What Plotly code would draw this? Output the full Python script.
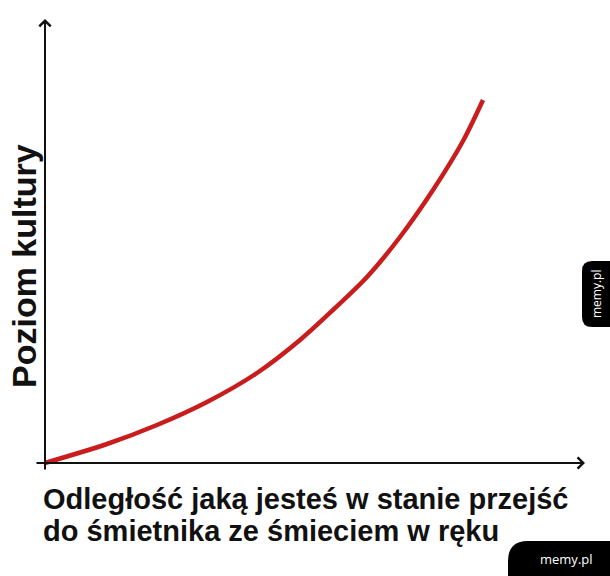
import plotly.graph_objects as go

# curve (x: distance, y: culture level)
distance = [0, 62, 112, 162, 212, 255, 288, 322, 355, 388, 418, 438]
culture = [0, 19, 38, 61, 90, 123, 153, 186, 226, 273, 322, 363]

x_label = "Odległość jaką jesteś w stanie przejść"
x_label_2 = "do śmietnika ze śmieciem w ręku"
y_label = "Poziom kultury"
watermark = "memy.pl"

fig = go.Figure()

fig.add_trace(
    go.Scatter(
        x=distance,
        y=culture,
        mode="lines",
        line=dict(color="#c91d1d", width=4.5, shape="spline", smoothing=0.8),
        hoverinfo="skip",
        showlegend=False,
    )
)

# axes drawn as arrows
arrow = dict(
    showarrow=True, arrowhead=4, arrowsize=1.1, arrowwidth=2,
    arrowcolor="#111111", text="", xref="x", yref="y", axref="x", ayref="y",
)
fig.add_annotation(x=540, y=0, ax=-10, ay=0, **arrow)
fig.add_annotation(x=0, y=444, ax=0, ay=-8, **arrow)

label_font = dict(family="Liberation Sans, Arial, sans-serif", size=29,
                  color="#111111", weight="bold")
fig.add_annotation(x=-4, y=-36, text=x_label, showarrow=False, xanchor="left",
                   yanchor="middle", font=label_font, xref="x", yref="y")
fig.add_annotation(x=-4, y=-68, text=x_label_2, showarrow=False, xanchor="left",
                   yanchor="middle", font=label_font, xref="x", yref="y")
fig.add_annotation(x=-21, y=197, text=y_label, showarrow=False, textangle=-90,
                   xanchor="center", yanchor="middle",
                   font=dict(family="Liberation Sans, Arial, sans-serif", size=34,
                             color="#111111", weight="bold"),
                   xref="x", yref="y")

# memy.pl badges
fig.add_shape(
    type="path",
    path="M 463,-78 L 565,-78 L 565,-113 L 463,-113 L 463,-98 Q 463,-78 483,-78 Z",
    fillcolor="black", line=dict(width=0), xref="x", yref="y",
)
fig.add_shape(
    type="path",
    path="M 565,202 L 547,202 Q 537,202 537,192 L 537,146 Q 537,136 547,136 L 565,136 Z",
    fillcolor="black", line=dict(width=0), xref="x", yref="y",
)
wm_font = dict(family="Open Sans, Arial, sans-serif", size=13, color="white")
fig.add_annotation(x=521, y=-96, text=watermark, showarrow=False,
                   font=wm_font, xref="x", yref="y")
fig.add_annotation(x=551, y=169, text=watermark, showarrow=False, textangle=-90,
                   font=dict(family="Open Sans, Arial, sans-serif", size=12,
                             color="white"),
                   xref="x", yref="y")

fig.update_xaxes(range=[-45, 565], visible=False, fixedrange=True)
fig.update_yaxes(range=[-113, 463], visible=False, fixedrange=True)
fig.update_layout(
    width=610,
    height=576,
    margin=dict(l=0, r=0, t=0, b=0),
    plot_bgcolor="white",
    paper_bgcolor="white",
    showlegend=False,
)

# drop the default page margin so the figure sits at the window's corner
fig.write_html(
    "out.html",
    config={"displayModeBar": False},
    post_script="document.body.style.margin='0';document.body.style.overflow='hidden';",
)
